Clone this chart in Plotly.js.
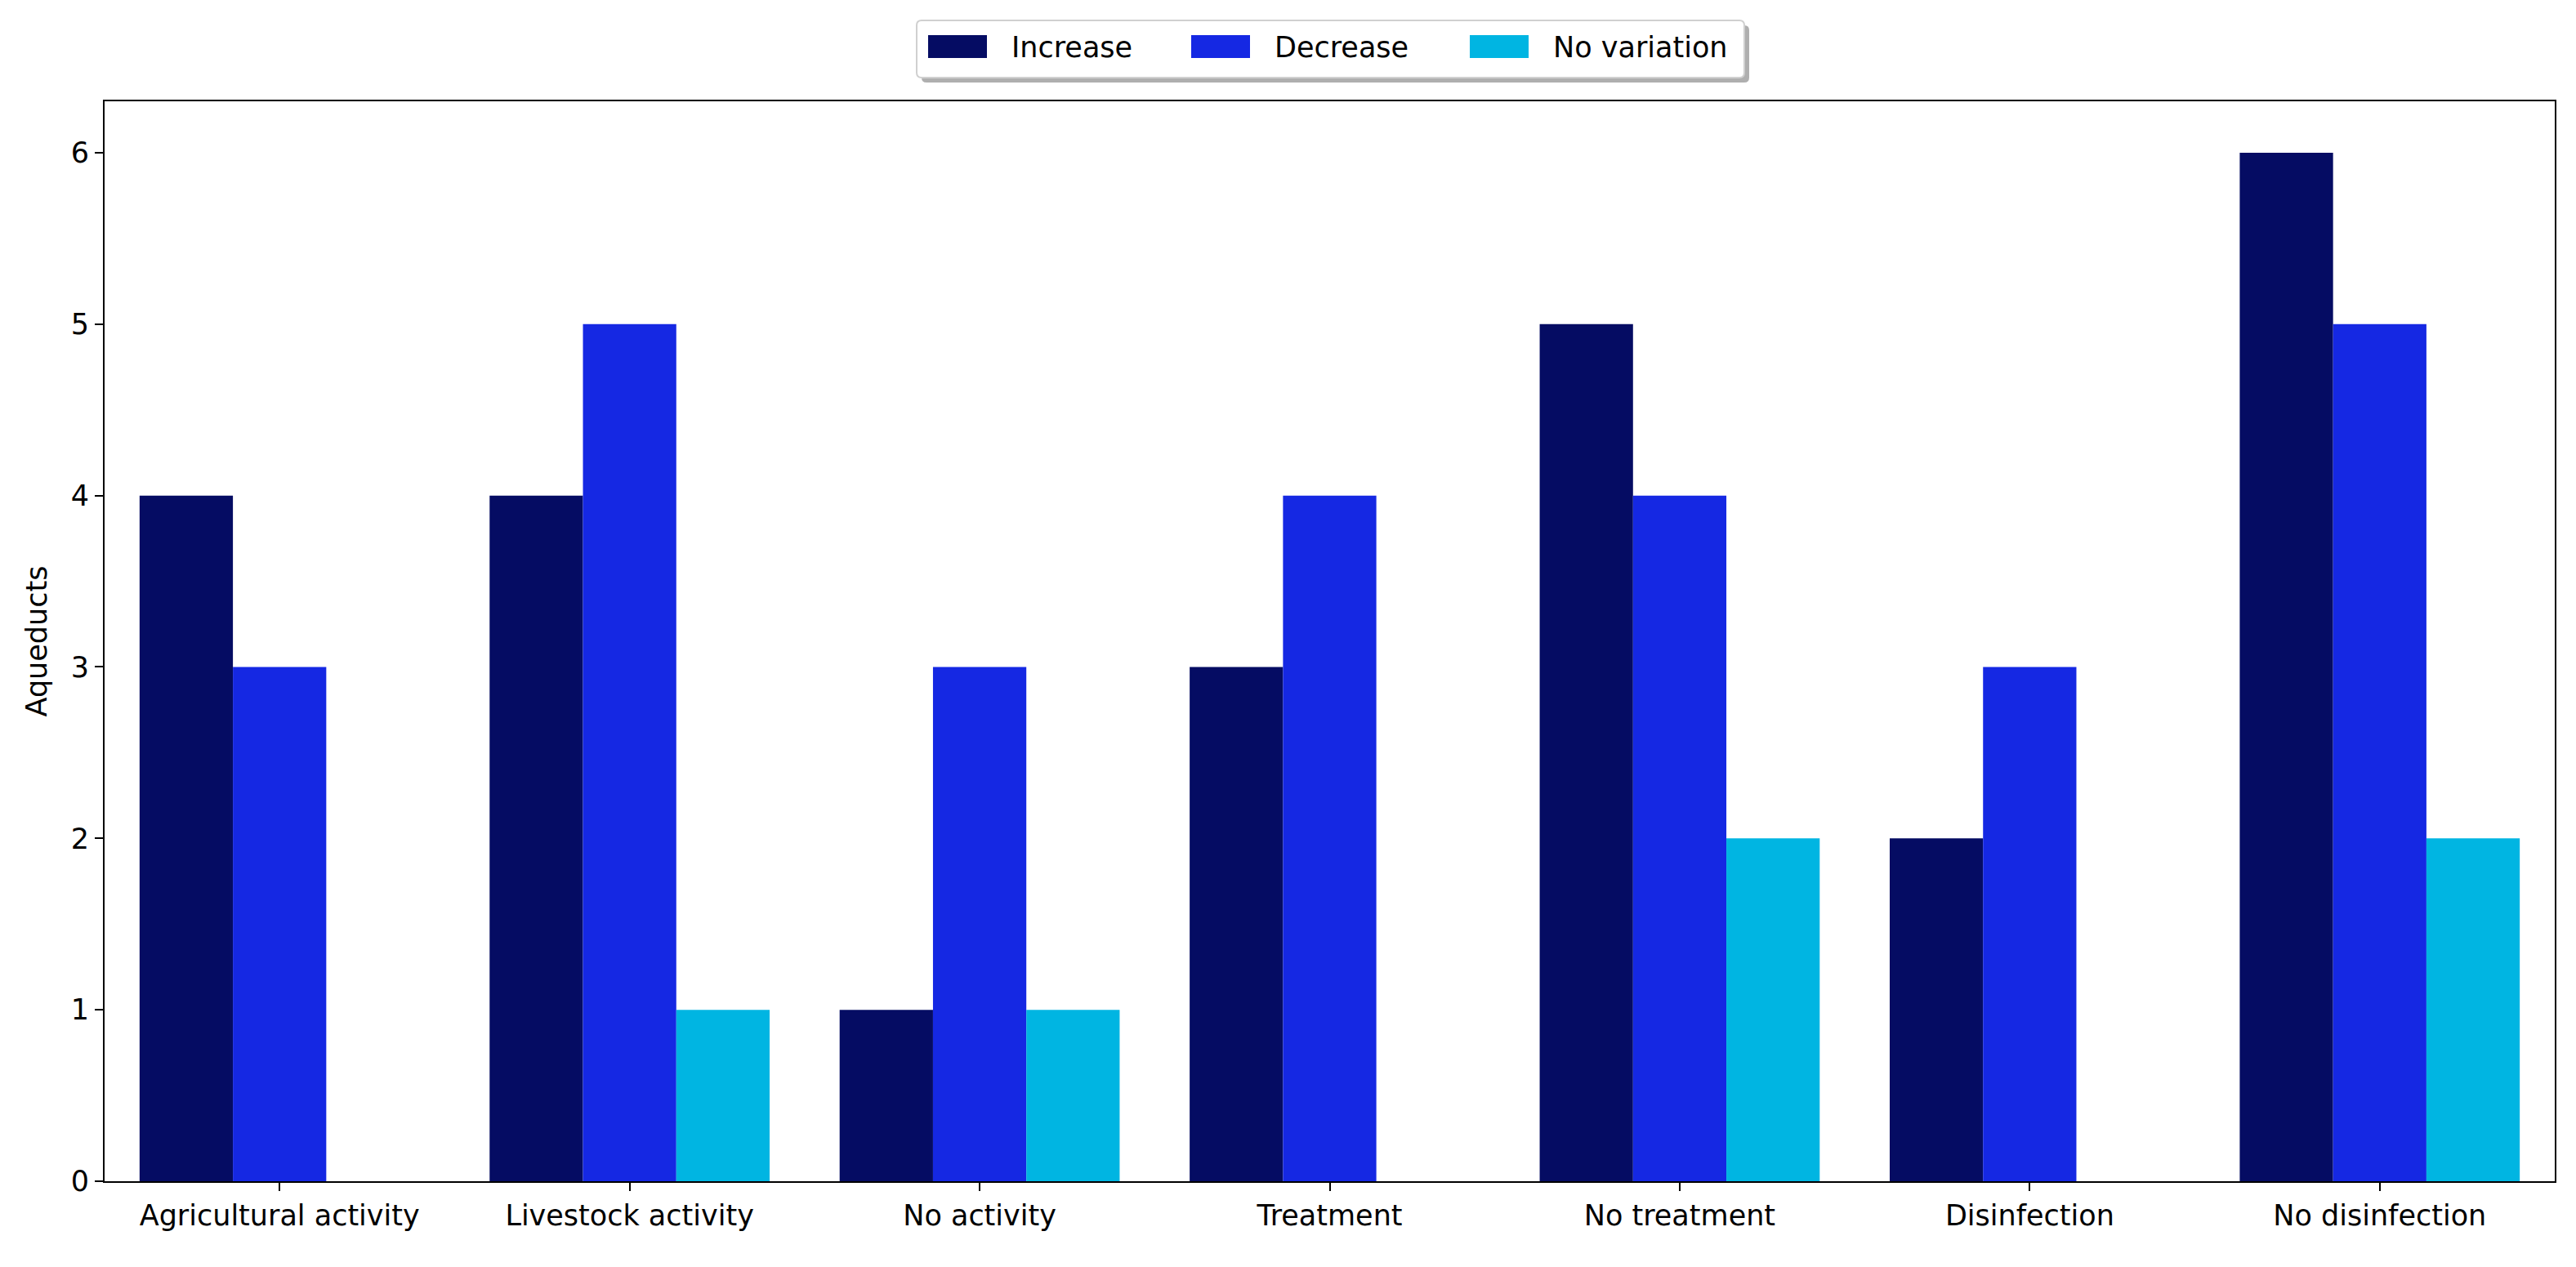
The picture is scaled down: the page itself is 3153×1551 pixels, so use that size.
<!DOCTYPE html>
<html>
<head>
<meta charset="utf-8">
<script src="https://cdn.plot.ly/plotly-3.0.1.min.js"></script>
<style>
html,body{margin:0;padding:0;background:#fff;}
#chart{width:3153px;height:1551px;}
</style>
</head>
<body>
<div id="chart"></div>
<script>
const categories = ["Agricultural activity","Livestock activity","No activity","Treatment","No treatment","Disinfection","No disinfection"];
const seriesNames = ["Increase","Decrease","No variation"];
const increase = [4,4,1,3,5,2,6];
const decrease = [3,5,3,4,4,3,5];
const noVariation = [0,1,1,0,2,0,2];
const seriesColors = ["#050c63","#1528e3","#00b5e2"];
const yTicks = [0,1,2,3,4,5,6];

const W = 3153, H = 1551;
const M = {l:128, r:26, t:124, b:105};
const PW = W - M.l - M.r, PH = H - M.t - M.b;
const FONT = "DejaVu Sans";
function px2x(px){ return (px - M.l)/PW; }
function px2y(py){ return (H - M.b - py)/PH; }

const seriesValues = [increase, decrease, noVariation];
const traces = seriesNames.map((n,i)=>({
  type:"bar", name:n, x:categories, y:seriesValues[i],
  marker:{color:seriesColors[i], line:{width:0}}, showlegend:false, hoverinfo:"x+y+name"
}));

// custom legend drawn in pixel layout, converted to paper coords
const box = {x0:1122, x1:2135, y0:25, y1:95};
const swatchX = [1136, 1458, 1799];
const swatchW = 72, swatchY0 = 43, swatchY1 = 71;
const shapes = [];
function roundRect(x0,y0,x1,y1,r){
  const X=px2x, Y=px2y;
  return `M${X(x0+r)},${Y(y0)} L${X(x1-r)},${Y(y0)} Q${X(x1)},${Y(y0)} ${X(x1)},${Y(y0+r)} L${X(x1)},${Y(y1-r)} Q${X(x1)},${Y(y1)} ${X(x1-r)},${Y(y1)} L${X(x0+r)},${Y(y1)} Q${X(x0)},${Y(y1)} ${X(x0)},${Y(y1-r)} L${X(x0)},${Y(y0+r)} Q${X(x0)},${Y(y0)} ${X(x0+r)},${Y(y0)} Z`;
}
shapes.push({type:"path", xref:"paper", yref:"paper", path:roundRect(box.x0+6,box.y0+6,box.x1+6,box.y1+6,6), fillcolor:"rgba(110,110,110,0.55)", line:{width:0}, layer:"above"});
shapes.push({type:"path", xref:"paper", yref:"paper", path:roundRect(box.x0,box.y0,box.x1,box.y1,6), fillcolor:"#ffffff", line:{color:"#d0d0d0", width:2}, layer:"above"});
const annotations = [];
seriesNames.forEach((n,i)=>{
  shapes.push({type:"rect", xref:"paper", yref:"paper", x0:px2x(swatchX[i]), x1:px2x(swatchX[i]+swatchW), y0:px2y(swatchY1), y1:px2y(swatchY0), fillcolor:seriesColors[i], line:{width:0}, layer:"above"});
  annotations.push({xref:"paper", yref:"paper", x:px2x(swatchX[i]+swatchW+28), y:px2y(58), xanchor:"left", yanchor:"middle", showarrow:false, text:n, font:{family:FONT, size:35, color:"#000"}});
});

const layout = {
  width:W, height:H,
  margin:M,
  paper_bgcolor:"#fff", plot_bgcolor:"#fff",
  font:{family:FONT, size:35, color:"#000"},
  barmode:"group", bargap:0.2, bargroupgap:0,
  showlegend:false,
  xaxis:{
    type:"category", range:[-0.5,6.5], automargin:false,
    showline:true, linecolor:"#000", linewidth:2, mirror:true,
    ticks:"outside", ticklen:10, tickwidth:2, tickcolor:"#000",
    showgrid:false, zeroline:false,
    tickfont:{family:FONT, size:35, color:"#000"}
  },
  yaxis:{
    range:[0,6.3], automargin:false,
    tickmode:"array", tickvals:yTicks, ticktext:yTicks.map(String),
    showline:true, linecolor:"#000", linewidth:2, mirror:true,
    ticks:"outside", ticklen:10, tickwidth:2, tickcolor:"#000",
    showgrid:false, zeroline:false,
    tickfont:{family:FONT, size:35, color:"#000"},
    title:{text:"Aqueducts", font:{family:FONT, size:35, color:"#000"}, standoff:18}
  },
  shapes:shapes,
  annotations:annotations
};
Plotly.newPlot("chart", traces, layout, {displayModeBar:false, staticPlot:true});
</script>
</body>
</html>
